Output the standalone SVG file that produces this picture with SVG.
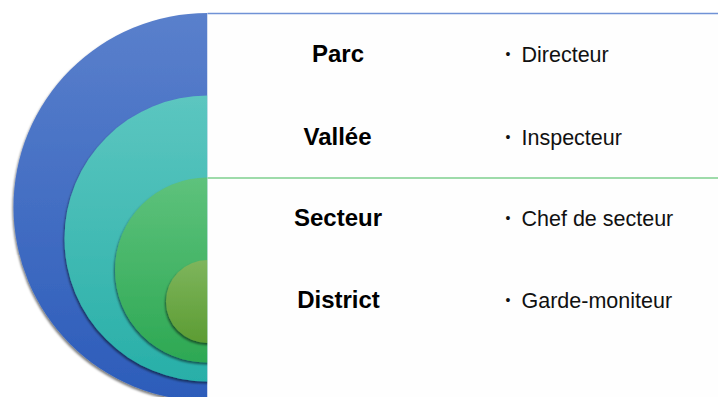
<svg xmlns="http://www.w3.org/2000/svg" width="718" height="397" viewBox="0 0 718 397">
  <defs>
    <linearGradient id="gBlue" x1="0" y1="0" x2="0" y2="1">
      <stop offset="0" stop-color="#5A80CC"/>
      <stop offset="1" stop-color="#2C5CBA"/>
    </linearGradient>
    <linearGradient id="gTeal" x1="0" y1="0" x2="0" y2="1">
      <stop offset="0" stop-color="#5CC6C0"/>
      <stop offset="1" stop-color="#28AFA8"/>
    </linearGradient>
    <linearGradient id="gGreen" x1="0" y1="0" x2="0" y2="1">
      <stop offset="0" stop-color="#5EC27C"/>
      <stop offset="1" stop-color="#2DA853"/>
    </linearGradient>
    <linearGradient id="gLime" x1="0" y1="0" x2="0" y2="1">
      <stop offset="0" stop-color="#7EB55C"/>
      <stop offset="1" stop-color="#5C9C33"/>
    </linearGradient>
    <filter id="shadow" x="-10%" y="-10%" width="120%" height="120%">
      <feDropShadow dx="-1" dy="2" stdDeviation="1.2" flood-color="#000" flood-opacity="0.5"/>
    </filter>
    <clipPath id="leftClip">
      <rect x="0" y="0" width="207.5" height="397"/>
    </clipPath>
  </defs>
  <style>
    .lvl { font-family: "Liberation Sans", Arial, sans-serif; font-weight: bold; font-size: 24px; fill: #000; text-anchor: middle; }
    .role { font-family: "Liberation Sans", Arial, sans-serif; font-size: 21.5px; fill: #111; }
    .bul { font-family: "Liberation Sans", Arial, sans-serif; font-size: 14px; fill: #111; text-anchor: middle; }
  </style>
  <rect width="718" height="397" fill="#FFFFFF"/>
  <g id="circles" clip-path="url(#leftClip)">
    <g id="parc-ring"><circle cx="207.5" cy="207" r="194" fill="url(#gBlue)" filter="url(#shadow)"/></g>
    <g id="vallee-ring"><circle cx="207.5" cy="238.5" r="143" fill="url(#gTeal)" filter="url(#shadow)"/></g>
    <g id="secteur-ring"><circle cx="207.5" cy="270" r="92.5" fill="url(#gGreen)" filter="url(#shadow)"/></g>
    <g id="district-ring"><circle cx="207.5" cy="301.5" r="41.5" fill="url(#gLime)" filter="url(#shadow)"/></g>
  </g>
  <g id="panel">
    <rect x="207.5" y="13" width="510.5" height="384" fill="#FEFEFE"/>
  </g>
  <g id="connectors">
    <line x1="207.5" y1="13.5" x2="718" y2="13.5" stroke="#7092D6" stroke-width="1.5"/>
    <line x1="207.5" y1="178" x2="718" y2="178" stroke="#7ECF8E" stroke-width="1.5"/>
  </g>
  <g id="node-parc">
    <text class="lvl" x="338" y="62">Parc</text>
    <text class="bul" x="508" y="59">•</text>
    <text class="role" x="521.5" y="62">Directeur</text>
  </g>
  <g id="node-vallee">
    <text class="lvl" x="337.5" y="145">Vallée</text>
    <text class="bul" x="508" y="142">•</text>
    <text class="role" x="521.5" y="145">Inspecteur</text>
  </g>
  <g id="node-secteur">
    <text class="lvl" x="338" y="226">Secteur</text>
    <text class="bul" x="508" y="223">•</text>
    <text class="role" x="521.5" y="226">Chef de secteur</text>
  </g>
  <g id="node-district">
    <text class="lvl" x="338.5" y="308">District</text>
    <text class="bul" x="508" y="305">•</text>
    <text class="role" x="521.5" y="308">Garde-moniteur</text>
  </g>
</svg>
